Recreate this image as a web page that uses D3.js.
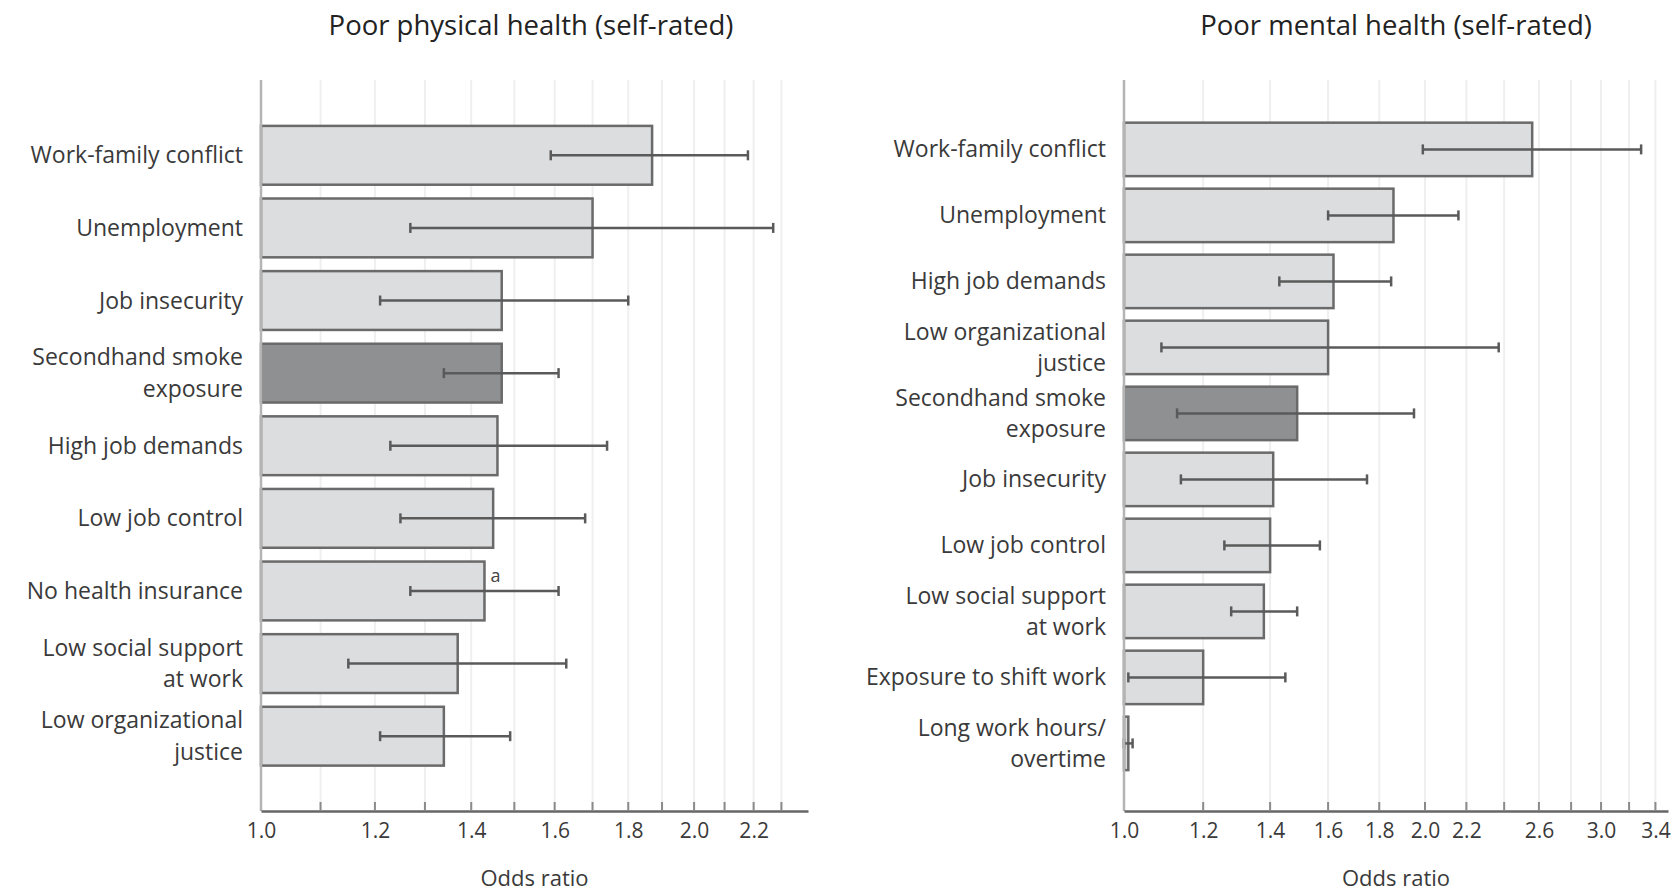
<!DOCTYPE html>
<html>
<head>
<meta charset="utf-8">
<script src="https://cdn.jsdelivr.net/npm/d3@7"></script>
<style>
  body { margin: 0; background: #fff; }
  svg { display: block; font-family: "Open Sans", sans-serif; }
</style>
</head>
<body>
<svg width="1671" height="894"></svg>
<script>
// Poor physical health panel
const physCats = ["Work-family conflict", "Unemployment", "Job insecurity", "Secondhand smoke|exposure",
  "High job demands", "Low job control", "No health insurance", "Low social support|at work",
  "Low organizational|justice"];
const physOR = [1.87, 1.70, 1.47, 1.47, 1.46, 1.45, 1.43, 1.37, 1.34];
const physLo = [1.59, 1.27, 1.21, 1.34, 1.23, 1.25, 1.27, 1.15, 1.21];
const physHi = [2.18, 2.27, 1.80, 1.61, 1.74, 1.68, 1.61, 1.63, 1.49];
const physNote = ["", "", "", "", "", "", "a", "", ""];
const physTicks = [1.0, 1.2, 1.4, 1.6, 1.8, 2.0, 2.2];
const physGrid = [1.1, 1.2, 1.3, 1.4, 1.5, 1.6, 1.7, 1.8, 1.9, 2.0, 2.1, 2.2, 2.3];

// Poor mental health panel
const mentCats = ["Work-family conflict", "Unemployment", "High job demands", "Low organizational|justice",
  "Secondhand smoke|exposure", "Job insecurity", "Low job control", "Low social support|at work",
  "Exposure to shift work", "Long work hours/|overtime"];
const mentOR = [2.56, 1.86, 1.62, 1.60, 1.49, 1.41, 1.40, 1.38, 1.20, 1.01];
const mentLo = [1.99, 1.60, 1.43, 1.09, 1.13, 1.14, 1.26, 1.28, 1.01, 1.00];
const mentHi = [3.29, 2.16, 1.85, 2.37, 1.95, 1.75, 1.57, 1.49, 1.45, 1.02];
const mentNote = ["", "", "", "", "", "", "", "", "", ""];
const mentTicks = [1.0, 1.2, 1.4, 1.6, 1.8, 2.0, 2.2, 2.6, 3.0, 3.4];
const mentGrid = [1.2, 1.4, 1.6, 1.8, 2.0, 2.2, 2.4, 2.6, 2.8, 3.0, 3.2, 3.4];

const darkCat = "Secondhand smoke|exposure";
const svg = d3.select("svg");

function panel(o) {
  const g = svg.append("g");
  const x = d3.scaleLog().domain(o.domain).range(o.xr);
  const y = d3.scaleBand().domain(o.cats).range(o.yr).paddingInner(0.19).paddingOuter(0.095);
  const top = 80, axisY = 811;

  // title
  g.append("text")
    .attr("x", o.titleX).attr("y", 35)
    .attr("text-anchor", "middle")
    .attr("font-size", 27.5).attr("fill", "#222")
    .text(o.title);

  // grid lines
  g.selectAll(".grid").data(o.grid).join("line")
    .attr("x1", d => x(d)).attr("x2", d => x(d))
    .attr("y1", top).attr("y2", axisY)
    .attr("stroke", "#efefef").attr("stroke-width", 2);

  // bars
  const rows = o.cats.map((c, i) => ({ c, v: o.or[i], lo: o.lo[i], hi: o.hi[i], note: o.note[i] }));
  g.selectAll(".bar").data(rows).join("rect")
    .attr("x", x(1))
    .attr("y", d => y(d.c))
    .attr("width", d => x(d.v) - x(1))
    .attr("height", y.bandwidth())
    .attr("fill", d => d.c === darkCat ? "#8f9092" : "#dcdddf")
    .attr("stroke", "#6a6a6a").attr("stroke-width", 2.5);

  // error bars
  const eb = g.selectAll(".err").data(rows).join("g")
    .attr("transform", d => `translate(0,${y(d.c) + y.bandwidth() / 2})`)
    .attr("stroke", "#5a5a5a").attr("stroke-width", 2.5);
  eb.append("line").attr("x1", d => x(d.lo)).attr("x2", d => x(d.hi));
  eb.append("line").attr("x1", d => x(d.lo)).attr("x2", d => x(d.lo)).attr("y1", -5).attr("y2", 5);
  eb.append("line").attr("x1", d => x(d.hi)).attr("x2", d => x(d.hi)).attr("y1", -5).attr("y2", 5);

  g.selectAll(".note").data(rows.filter(d => d.note)).join("text")
    .attr("x", d => x(d.v) + 6).attr("y", d => y(d.c) + 20)
    .attr("font-size", 18).attr("fill", "#444")
    .text(d => d.note);

  // category labels, one text per line
  rows.forEach(d => {
    const parts = d.c.split("|");
    const cy = y(d.c) + y.bandwidth() / 2;
    const gap = 31.5;
    g.selectAll(null).data(parts).join("text")
      .attr("text-anchor", "end").attr("font-size", 23).attr("fill", "#3a3a3a")
      .attr("x", x(1) - 18)
      .attr("y", (p, k) => cy + (k - (parts.length - 1) / 2) * gap)
      .attr("dy", "0.35em")
      .text(p => p);
  });

  // y axis line
  g.append("line")
    .attr("x1", x(1)).attr("x2", x(1)).attr("y1", top).attr("y2", axisY)
    .attr("stroke", "#b4b4b4").attr("stroke-width", 2.5);

  // x axis
  const ax = g.append("g").attr("transform", `translate(0,${axisY})`)
    .call(d3.axisBottom(x).tickValues(o.ticks).tickFormat(d3.format(".1f")).tickSize(0).tickPadding(12));
  ax.select(".domain").attr("stroke", "#666").attr("stroke-width", 2.5);
  ax.selectAll("text").attr("font-size", 21).attr("fill", "#3a3a3a").attr("font-family", "Open Sans, sans-serif");
  g.selectAll(".tk").data(o.grid).join("line")
    .attr("x1", d => x(d)).attr("x2", d => x(d))
    .attr("y1", axisY - 9).attr("y2", axisY)
    .attr("stroke", "#8a8a8a").attr("stroke-width", 2);

  g.append("text")
    .attr("x", (o.xr[0] + o.xr[1]) / 2).attr("y", 886)
    .attr("text-anchor", "middle").attr("font-size", 22).attr("fill", "#3a3a3a")
    .text("Odds ratio");
}

panel({
  title: "Poor physical health (self-rated)", titleX: 531,
  cats: physCats, or: physOR, lo: physLo, hi: physHi, note: physNote,
  ticks: physTicks, grid: physGrid,
  domain: [1, 2.4], xr: [261, 808], yr: [119, 772.5]
});

panel({
  title: "Poor mental health (self-rated)", titleX: 1396,
  cats: mentCats, or: mentOR, lo: mentLo, hi: mentHi, note: mentNote,
  ticks: mentTicks, grid: mentGrid,
  domain: [1, 3.5], xr: [1124, 1668], yr: [116.4, 776.4]
});
</script>
</body>
</html>
